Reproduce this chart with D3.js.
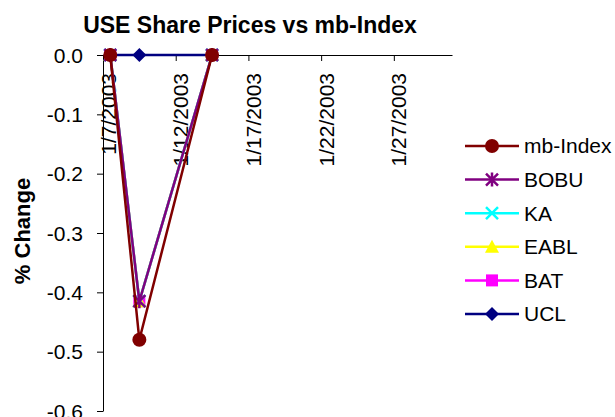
<!DOCTYPE html>
<html>
<head>
<meta charset="utf-8">
<title>USE Share Prices vs mb-Index</title>
<script src="https://cdnjs.cloudflare.com/ajax/libs/d3/7.8.5/d3.min.js"></script>
<style>
  body { margin: 0; background: #fff; }
  text { font-family: "Liberation Sans", Arial, sans-serif; fill: #000; }
</style>
</head>
<body>
<script>
// data
let dates = ['2003-01-07', '2003-01-09', '2003-01-14'];
let seriesNames = ['mb-Index', 'BOBU', 'KA', 'EABL', 'BAT', 'UCL'];
let mbIndex = [0, -0.48, 0];
let bobu = [0, -0.415, 0];
let ka = [0, -0.415, 0];
let eabl = [0, -0.415, 0];
let bat = [0, -0.415, 0];
let ucl = [0, 0, 0];
let tickDates = ['2003-01-07', '2003-01-12', '2003-01-17', '2003-01-22', '2003-01-27'];
let yTicks = [0, -0.1, -0.2, -0.3, -0.4, -0.5, -0.6];

let colors = ['#800000', '#800080', '#00ffff', '#ffff00', '#ff00ff', '#000080'];
let shapes = ['circle', 'asterisk', 'cross', 'triangle', 'square', 'diamond'];
let values = [mbIndex, bobu, ka, eabl, bat, ucl];

let width = 615,
    height = 417;

let parse = d3.timeParse('%Y-%m-%d');

let xScale = d3.scaleTime()
    .domain([parse('2003-01-07'), parse('2003-01-31')])
    .range([103, 452]);

let yScale = d3.scaleLinear()
    .domain([-0.6, 0])
    .range([411, 55]);

let svg = d3.select('body')
    .append('svg')
    .attr('width', width)
    .attr('height', height);

// title
svg.append('text')
    .attr('x', 250)
    .attr('y', 33)
    .attr('text-anchor', 'middle')
    .style('font-size', '23px')
    .style('font-weight', 'bold')
    .text('USE Share Prices vs mb-Index');

// y axis title
svg.append('text')
    .attr('transform', 'translate(30,231) rotate(-90)')
    .attr('text-anchor', 'middle')
    .style('font-size', '22px')
    .style('font-weight', 'bold')
    .text('% Change');

// y axis
let yAxis = svg.append('g')
    .attr('transform', 'translate(103,0)')
    .call(d3.axisLeft(yScale).tickValues(yTicks).tickSize(6).tickSizeOuter(0).tickFormat(d3.format('.1f')));
yAxis.select('.domain').attr('stroke', '#000').attr('stroke-width', 1);
yAxis.selectAll('.tick line').attr('stroke', '#000');
yAxis.selectAll('.tick text')
    .attr('x', -20)
    .attr('dy', '0.34em')
    .style('font-size', '21px')
    .style('font-family', '"Liberation Sans", Arial, sans-serif')
    .text(d => d3.format('.1f')(d).replace('−', '-'));

// x axis at zero
let xAxis = svg.append('g')
    .attr('transform', 'translate(0,' + yScale(0) + ')')
    .call(d3.axisBottom(xScale).tickValues(tickDates.map(parse)).tickSize(6).tickSizeOuter(0).tickFormat(d3.timeFormat('%-m/%-d/%Y')));
xAxis.select('.domain').attr('stroke', '#000').attr('stroke-width', 1);
xAxis.selectAll('.tick line').attr('stroke', '#000');
xAxis.selectAll('.tick text')
    .attr('y', 0)
    .attr('dy', 0)
    .attr('transform', 'translate(12,18) rotate(-90)')
    .attr('text-anchor', 'end')
    .style('font-size', '21px')
    .style('font-family', '"Liberation Sans", Arial, sans-serif');

// markers
function drawMarker(g, shape, color, x, y) {
    if (shape === 'circle') {
        g.append('circle').attr('cx', x).attr('cy', y).attr('r', 7).attr('fill', color);
    } else if (shape === 'square') {
        g.append('rect').attr('x', x - 6).attr('y', y - 6).attr('width', 12).attr('height', 12).attr('fill', color);
    } else if (shape === 'diamond') {
        g.append('path').attr('d', `M${x},${y - 7}L${x + 7},${y}L${x},${y + 7}L${x - 7},${y}Z`).attr('fill', color);
    } else if (shape === 'triangle') {
        g.append('path').attr('d', `M${x},${y - 7}L${x + 7},${y + 6}L${x - 7},${y + 6}Z`).attr('fill', color);
    } else if (shape === 'cross') {
        g.append('path').attr('d', `M${x - 6},${y - 6}L${x + 6},${y + 6}M${x + 6},${y - 6}L${x - 6},${y + 6}`)
            .attr('stroke', color).attr('stroke-width', 2.5);
    } else if (shape === 'asterisk') {
        g.append('path').attr('d', `M${x - 6},${y - 6}L${x + 6},${y + 6}M${x + 6},${y - 6}L${x - 6},${y + 6}M${x},${y - 7}L${x},${y + 7}`)
            .attr('stroke', color).attr('stroke-width', 2.5);
    }
}

let line = d3.line()
    .x(d => xScale(d3.timeHour.offset(parse(d.date), 12)))
    .y(d => yScale(d.value));

// Excel draws later series first, so go in reverse order
d3.range(seriesNames.length).reverse().forEach(i => {
    let pts = dates.map((d, j) => ({date: d, value: values[i][j]}));
    let g = svg.append('g');
    g.append('path')
        .datum(pts)
        .attr('d', line)
        .attr('fill', 'none')
        .attr('stroke', colors[i])
        .attr('stroke-width', 2.5);
    pts.forEach(p => {
        drawMarker(g, shapes[i], colors[i], xScale(d3.timeHour.offset(parse(p.date), 12)), yScale(p.value));
    });
});

// legend
let legend = svg.append('g');
seriesNames.forEach((name, i) => {
    let y = 146 + i * 33.6;
    legend.append('line')
        .attr('x1', 465).attr('x2', 519)
        .attr('y1', y).attr('y2', y)
        .attr('stroke', colors[i])
        .attr('stroke-width', 2.5);
    drawMarker(legend, shapes[i], colors[i], 492, y);
    legend.append('text')
        .attr('x', 524)
        .attr('y', y)
        .attr('dy', '0.35em')
        .style('font-size', '21px')
        .text(name);
});
</script>
</body>
</html>
